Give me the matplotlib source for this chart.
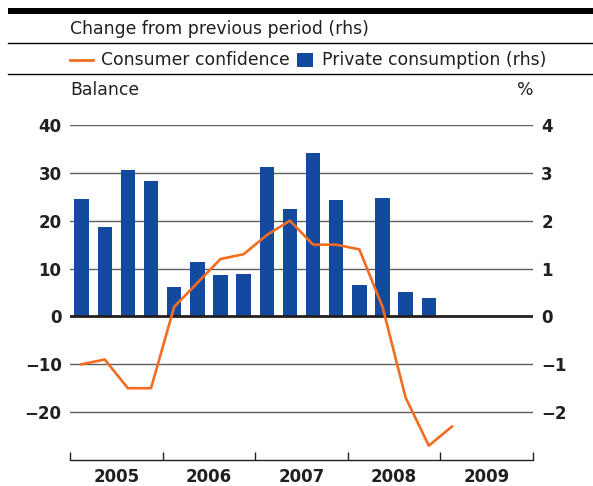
import numpy as np
import matplotlib.pyplot as plt
from matplotlib.lines import Line2D
from matplotlib.patches import Rectangle

# quarterly data, 2005Q1 onwards
confidence = [-10, -9, -15, -15, 2, 7, 12, 13, 17, 20, 15, 15, 14, 2, -17, -27, -23]
consumption = [2.45, 1.86, 3.07, 2.82, 0.62, 1.14, 0.87, 0.89,
               3.13, 2.24, 3.41, 2.43, 0.66, 2.47, 0.51, 0.39]
years = [2005, 2006, 2007, 2008, 2009]
left_ticks = [-20, -10, 0, 10, 20, 30, 40]
right_ticks = [-2, -1, 0, 1, 2, 3, 4]

ORANGE = '#f26d21'
BLUE = '#144a9e'
GRID = '#5e5e5e'
TXT = '#231f20'

plt.rcParams['font.family'] = ['DejaVu Sans']

W, H = 593, 486
fig = plt.figure(figsize=(W / 100, H / 100), dpi=100)

def fx(px):
    return px / W

def fy(py):
    return 1 - py / H

# header
fig.add_artist(Rectangle((fx(8), fy(14)), 1 - fx(8), fy(8) - fy(14),
                         transform=fig.transFigure, color='black', lw=0))
for yy in (43, 74):
    fig.add_artist(Line2D([fx(8), 1], [fy(yy), fy(yy)], transform=fig.transFigure,
                          color='black', lw=1.0))
fig.text(fx(70), fy(29), 'Change from previous period (rhs)', fontsize=12.4,
         color=TXT, va='center', ha='left')
fig.add_artist(Line2D([fx(70), fx(93)], [fy(60), fy(60)], transform=fig.transFigure,
                      color=ORANGE, lw=2))
fig.text(fx(101), fy(60), 'Consumer confidence', fontsize=12.4, color=TXT,
         va='center', ha='left')
fig.add_artist(Rectangle((fx(297), fy(67)), fx(16), fy(53) - fy(67),
                         transform=fig.transFigure, color=BLUE, lw=0))
fig.text(fx(322), fy(60), 'Private consumption (rhs)', fontsize=12.4, color=TXT,
         va='center', ha='left')
fig.text(fx(70), fy(90), 'Balance', fontsize=12.4, color=TXT, va='center', ha='left')
fig.text(fx(533), fy(90), '%', fontsize=12.4, color=TXT, va='center', ha='right')

# plot area
ax2 = fig.add_axes([fx(70), fy(460), fx(533) - fx(70), fy(125) - fy(460)])
ax = ax2.twinx()
ax.set_zorder(ax2.get_zorder() + 1)
ax.patch.set_visible(False)

xq = np.array([y + (q + 0.5) / 4 for y in range(2005, 2010) for q in range(4)])

# bars on rhs scale
ax2.bar(xq[:len(consumption)], consumption, width=0.155, color=BLUE, zorder=2)
ax2.set_ylim(-3, 4)
ax2.set_yticks(right_ticks)
for t in right_ticks:
    if t == 0:
        ax2.axhline(0, color='#231f20', lw=2, zorder=3)
    else:
        ax2.axhline(t, color=GRID, lw=1, zorder=1)
ax2.yaxis.tick_right()
ax2.set_yticklabels(['\u2212%d' % -t if t < 0 else str(t) for t in right_ticks])

# line on lhs scale
ax.plot(xq[:len(confidence)], confidence, color=ORANGE, lw=1.9, zorder=4)
ax.set_ylim(-30, 40)
ax.yaxis.tick_left()
ax.set_yticks(left_ticks)
ax.set_yticklabels(['\u2212%d' % -t if t < 0 else str(t) for t in left_ticks])

for a in (ax, ax2):
    for s in ('top', 'left', 'right', 'bottom'):
        a.spines[s].set_visible(False)
    a.tick_params(axis='y', length=0, labelsize=12, labelcolor=TXT, pad=6)
    for lab in a.get_yticklabels():
        lab.set_fontweight('bold')

ax2.spines['bottom'].set_visible(True)
ax2.spines['bottom'].set_color('#231f20')
ax2.spines['bottom'].set_linewidth(1.0)
ax2.set_xlim(2005, 2010)
ax.set_xlim(2005, 2010)
ax2.set_xticks(years + [2010])
ax2.set_xticklabels([])
ax2.set_xticks([y + 0.5 for y in years], minor=True)
ax2.set_xticklabels([str(y) for y in years], minor=True, fontsize=12,
                    fontweight='bold', color=TXT)
ax2.tick_params(axis='x', which='major', direction='in', length=6, width=1,
                color='#231f20')
ax2.tick_params(axis='x', which='minor', length=0, pad=6)
ax.tick_params(axis='x', length=0, labelbottom=False)

fig.savefig('out.png', dpi=100)
